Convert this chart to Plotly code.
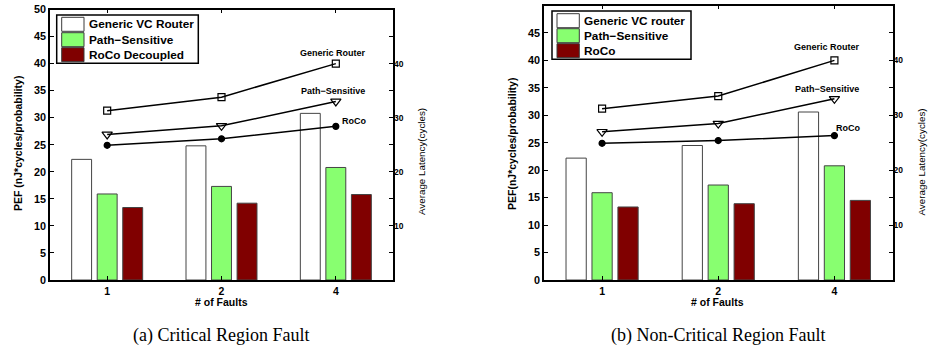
import plotly.graph_objects as go

W, H = 937, 348

faults = ["1", "2", "4"]

# Panel (a) Critical Region Fault
a_bar_names = ["Generic VC Router", "Path\u2212Sensitive", "RoCo Decoupled"]
a_generic = [22.3, 24.8, 30.8]
a_path = [15.9, 17.3, 20.8]
a_roco = [13.4, 14.2, 15.8]
a_lat_generic = [31.3, 33.8, 40.0]
a_lat_path = [26.9, 28.5, 33.0]
a_lat_roco = [24.9, 26.1, 28.4]

# Panel (b) Non-Critical Region Fault
b_bar_names = ["Generic VC router", "Path\u2212Sensitive", "RoCo"]
b_generic = [22.2, 24.5, 30.6]
b_path = [15.9, 17.3, 20.8]
b_roco = [13.3, 13.9, 14.5]
b_lat_generic = [31.2, 33.5, 40.0]
b_lat_path = [27.0, 28.5, 33.0]
b_lat_roco = [24.9, 25.4, 26.3]

line_names = ["Generic Router", "Path\u2212Sensitive", "RoCo"]
bar_colors = ["#ffffff", "#88ff70", "#800000"]
captions = ["(a) Critical Region Fault", "(b) Non-Critical Region Fault"]

FONT = "Liberation Sans, Arial, sans-serif"
SERIF = "Liberation Serif, Times New Roman, serif"


def px(x):
    return x / W


def py(y):
    return 1 - y / H


fig = go.Figure()

panels = [
    dict(bars=[a_generic, a_path, a_roco], lines=[a_lat_generic, a_lat_path, a_lat_roco],
         names=a_bar_names, xa="x", ya="y", ya2="y2",
         xdom=(50, 393), ydom=(9.5, 280)),
    dict(bars=[b_generic, b_path, b_roco], lines=[b_lat_generic, b_lat_path, b_lat_roco],
         names=b_bar_names, xa="x2", ya="y3", ya2="y4",
         xdom=(544, 892.5), ydom=(5.5, 280)),
]

symbols = ["square-open", "triangle-down-open", "circle"]
msizes = [7, 9, 6]

for p in panels:
    for vals, name, col in zip(p["bars"], p["names"], bar_colors):
        fig.add_trace(go.Bar(x=faults, y=vals, name=name, marker_color=col,
                             marker_line_color="#444444", marker_line_width=1,
                             xaxis=p["xa"], yaxis=p["ya"], showlegend=False))
    for vals, name, sym, ms in zip(p["lines"], line_names, symbols, msizes):
        fig.add_trace(go.Scatter(x=faults, y=vals, name=name, mode="lines+markers",
                                 line=dict(color="black", width=1.5),
                                 marker=dict(symbol=sym, size=ms, color="black",
                                             line=dict(color="black", width=1.2)),
                                 xaxis=p["xa"], yaxis=p["ya2"], showlegend=False))

axis_common = dict(showline=True, linecolor="black", linewidth=1.8, mirror="ticks",
                   ticks="inside", ticklen=4, tickwidth=1, tickcolor="black",
                   showgrid=False, zeroline=False, automargin=False)

layout = dict(
    template="none",
    width=W, height=H, margin=dict(l=0, r=0, t=0, b=0, pad=0), autosize=False,
    paper_bgcolor="white", plot_bgcolor="white",
    barmode="group", bargap=0.33, bargroupgap=0.22,
    showlegend=False, font=dict(family=FONT, color="black"),
)

annotations = []
shapes = []


def ann(text, x, y, size, family=FONT, **kw):
    d = dict(text=text, x=x, y=y, xref="paper", yref="paper", showarrow=False,
             xanchor="center", yanchor="middle", font=dict(family=family, size=size))
    d.update(kw)
    annotations.append(d)


for i, p in enumerate(panels):
    xkey = "xaxis" if i == 0 else "xaxis2"
    ykey = "yaxis" if i == 0 else "yaxis3"
    y2key = "yaxis2" if i == 0 else "yaxis4"
    xd = [px(p["xdom"][0]), px(p["xdom"][1])]
    yd = [py(p["ydom"][1]), py(p["ydom"][0])]
    layout[xkey] = dict(axis_common, domain=xd, anchor=p["ya"], type="category",
                        range=[-0.5, 2.5],
                        tickfont=dict(family=FONT, size=10.5, color="black", weight="bold"))
    layout[ykey] = dict(axis_common, domain=yd, anchor=p["xa"], range=[0, 50],
                        tickvals=list(range(0, 51, 5)),
                        tickfont=dict(family=FONT, size=10.8, color="black", weight="bold"))
    layout[y2key] = dict(overlaying=p["ya"], side="right", anchor=p["xa"], range=[0, 50],
                         tickvals=[10, 20, 30, 40], showline=False, showgrid=False,
                         zeroline=False, ticks="", automargin=False,
                         tickfont=dict(family=FONT, size=8.5, color="black", weight="bold"))

    x0, x1 = p["xdom"]
    cx = (x0 + x1) / 2 - 0.5
    ann("<b># of Faults</b>", px(cx), py(302), 10.5)
    ann(captions[i], px(cx), py(335), 18, family=SERIF)
    ytitle = "PEF (nJ*cycles/probability)" if i == 0 else "PEF(nJ*cycles/probability)"
    ann("<b>" + ytitle + "</b>", px(x0 - 32), py(144), 10.5, textangle=-90)
    ann("Average Latency(cycles)", px(x1 + 29), py(162), 9.8, textangle=-90)

    # line labels
    if i == 0:
        offs = [(-3, 11), (-3, 10), (18, 5)]
    else:
        offs = [(-7, 13), (-7, 10), (14, 8)]
    for vals, name, (dx, dy) in zip(p["lines"], line_names, offs):
        annotations.append(dict(text=name, x=2, y=vals[-1], xref=p["xa"], yref=p["ya2"],
                                xshift=dx, yshift=dy, showarrow=False,
                                xanchor="center", yanchor="middle",
                                font=dict(family=FONT, size=9, weight="bold")))

    # manual legend
    if i == 0:
        bx0, bx1, by0, by1 = 56.7, 198.3, 15, 63.3
        sw0, sw1, tx = 61.7, 84, 86.5
        rows = [24.3, 39.7, 54.7]
    else:
        bx0, bx1, by0, by1 = 552, 691, 11, 59.3
        sw0, sw1, tx = 557, 579.3, 582
        rows = [20.7, 35.7, 50.7]
    shapes.append(dict(type="rect", xref="paper", yref="paper", x0=px(bx0), x1=px(bx1),
                       y0=py(by1), y1=py(by0), line=dict(color="black", width=1.5),
                       fillcolor="white", layer="above"))
    for ry, name, col in zip(rows, p["names"], bar_colors):
        shapes.append(dict(type="rect", xref="paper", yref="paper", x0=px(sw0), x1=px(sw1),
                           y0=py(ry + 7), y1=py(ry - 7), line=dict(color="#3a3a3a", width=1),
                           fillcolor=col, layer="above"))
        ann("<b>" + name + "</b>", px(tx), py(ry), 11.8, xanchor="left")

layout["annotations"] = annotations
layout["shapes"] = shapes
fig.update_layout(**layout)

fig.write_html("out.html", config={"displayModeBar": False},
               post_script="document.body.style.margin='0';document.body.style.padding='0';")
